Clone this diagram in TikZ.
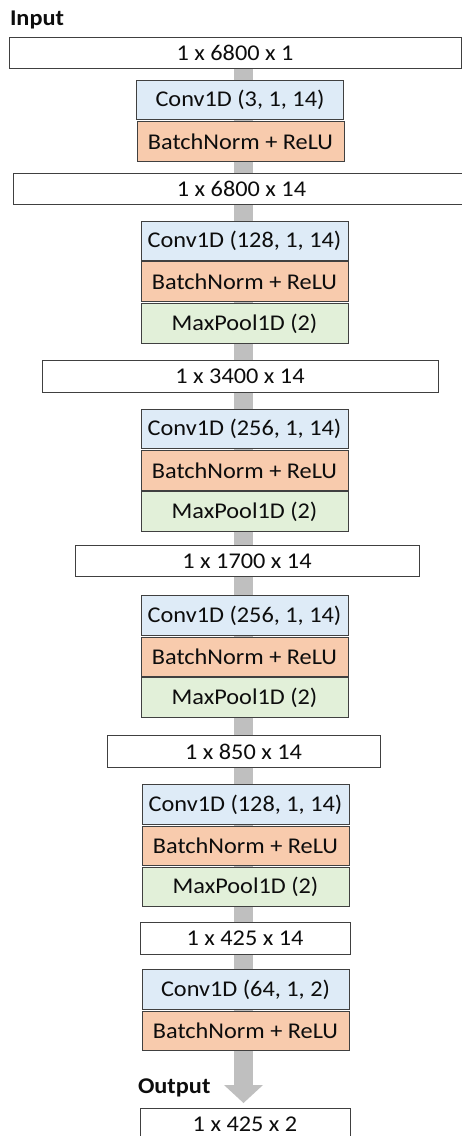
\documentclass[tikz,border=0pt]{standalone}
\usepackage{fontspec}
\usetikzlibrary{calc}
\setmainfont{Carlito}[FakeStretch=1.08]
\begin{document}
\begin{tikzpicture}[x=1pt,y=-1pt,
  every node/.style={inner sep=0pt, outer sep=0pt, font=\fontsize{22.5}{27}\selectfont, text=black!95},
  layer/.style={draw=black!75, line width=1pt, minimum width=207pt, minimum height=39.5pt},
  conv/.style={layer, fill=convblue},
  bnrelu/.style={layer, fill=bnorange},
  pool/.style={layer, fill=poolgreen},
  shapebox/.style={draw=black!75, line width=1pt, fill=white, minimum height=31.5pt},
  tag/.style={font=\fontsize{22.5}{27}\selectfont\bfseries, anchor=base west},
  flow/.style={fill=flowgray, draw=none}]
\definecolor{convblue}{HTML}{DEEBF7}
\definecolor{bnorange}{HTML}{F8CBAD}
\definecolor{poolgreen}{HTML}{E2F0D9}
\definecolor{flowgray}{HTML}{BFBFBF}

\useasboundingbox (0,0) rectangle (462,1136);

% data flow shaft and arrow head (behind the blocks)
\coordinate (shafttop) at (243.5,60);
\coordinate (headbase) at (243.5,1085);
\coordinate (headtip) at (243.5,1103);
\fill[flow] ($(shafttop)+(-9.5,0)$) rectangle ($(headbase)+(9.5,0)$);
\fill[flow] ($(headbase)+(-19.5,0)$) -- ($(headbase)+(19.5,0)$) -- (headtip) -- cycle;

% input
\node[tag] (inlabel) at (10,25) {Input};
\node[shapebox, minimum width=452pt] (s0) at (235,53) {1 x 6800 x 1};

% block 1
\node[conv]   (c1) at (240,100)   {Conv1D (3, 1, 14)};
\node[bnrelu] (b1) at (240.5,141.5) {BatchNorm + ReLU};
\node[shapebox, minimum width=457pt] (s1) at (241.5,189) {1 x 6800 x 14};

% block 2
\node[conv]   (c2) at (244.5,241)   {Conv1D (128, 1, 14)};
\node[bnrelu] (b2) at (244.5,281.5) {BatchNorm + ReLU};
\node[pool]   (m2) at (244.5,323.5) {MaxPool1D (2)};
\node[shapebox, minimum width=396pt] (s2) at (240,376.5) {1 x 3400 x 14};

% block 3
\node[conv]   (c3) at (244.5,429)   {Conv1D (256, 1, 14)};
\node[bnrelu] (b3) at (244.5,470.5) {BatchNorm + ReLU};
\node[pool]   (m3) at (244.5,511.5) {MaxPool1D (2)};
\node[shapebox, minimum width=344pt] (s3) at (247,561) {1 x 1700 x 14};

% block 4
\node[conv]   (c4) at (244.5,615.5) {Conv1D (256, 1, 14)};
\node[bnrelu] (b4) at (244.5,657)   {BatchNorm + ReLU};
\node[pool]   (m4) at (244.5,697.5) {MaxPool1D (2)};
\node[shapebox, minimum width=273pt] (s4) at (243.5,751.5) {1 x 850 x 14};

% block 5
\node[conv]   (c5) at (245.5,804.5) {Conv1D (128, 1, 14)};
\node[bnrelu] (b5) at (245.5,846)   {BatchNorm + ReLU};
\node[pool]   (m5) at (245.5,887)   {MaxPool1D (2)};
\node[shapebox, minimum width=210pt] (s5) at (245,938.5) {1 x 425 x 14};

% block 6
\node[conv]   (c6) at (245.5,989.5) {Conv1D (64, 1, 2)};
\node[bnrelu] (b6) at (245.5,1031)  {BatchNorm + ReLU};

% output
\node[tag] (outlabel) at (138,1093) {Output};
\node[shapebox, minimum width=210pt, minimum height=32pt] (s6) at (245,1124) {1 x 425 x 2};
\end{tikzpicture}
\end{document}
